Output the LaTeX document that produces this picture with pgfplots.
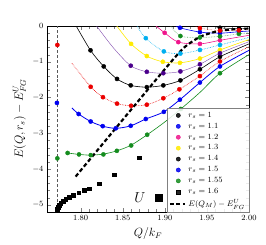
\documentclass[border=0pt]{standalone}
\usepackage{pgfplots}
\pgfplotsset{compat=1.18}
\pgfplotsset{shortline/.style={legend image code/.code={\draw[##1] (0cm,0cm) -- (0.55cm,0cm);}}}
\definecolor{cgreen}{RGB}{20,140,30}
\definecolor{cblue}{RGB}{0,0,240}
\definecolor{cred}{RGB}{235,0,0}
\definecolor{cpink}{RGB}{240,20,140}
\definecolor{ccyan}{RGB}{0,175,240}
\definecolor{cyell}{RGB}{255,235,0}
\definecolor{cpurp}{RGB}{75,0,140}
\begin{document}
\begin{tikzpicture}
\useasboundingbox (-47bp,-33bp) rectangle (219bp,212bp);
\begin{axis}[scale only axis, width=202bp, height=186bp,
  xmin=1.76, xmax=2.0, ymin=-5.2, ymax=0,
  xtick={1.8,1.85,1.9,1.95,2.0}, ytick={-5,-4,-3,-2,-1,0},
  minor x tick num=4, minor y tick num=4,
  xticklabel style={/pgf/number format/.cd, fixed, fixed zerofill, precision=2},
  tick label style={font=\footnotesize},
  xlabel={$Q/k_F$}, ylabel={$E(Q,r_s)-E^U_{FG}$}, label style={font=\large},
  legend style={at={(1,0)}, anchor=south east, draw=gray, fill=white, fill opacity=0.85, text opacity=1, font=\footnotesize, row sep=0.3pt, inner xsep=2pt, inner ysep=2pt},
  legend cell align=left,
  lin/.style={forget plot, no marks, smooth, tension=0.5},
  pts/.style={only marks, mark=*, mark size=2.1pt},
]
% vertical dotted line
\addplot[forget plot, densely dashed, gray!70!black, thin] coordinates {(1.7723,-5.2)(1.7723,0)};
% lines
\addplot[lin, cgreen, semithick] coordinates {(1.7845,-3.55)(1.7980,-3.59)(1.8120,-3.61)(1.8270,-3.58)(1.8430,-3.49)(1.8600,-3.33)(1.8790,-3.04)(1.8990,-2.70)(1.9190,-2.32)(1.9420,-1.85)(1.9655,-1.32)(2.0,-0.80)};
\addplot[lin, cblue, thick] coordinates {(1.7896,-2.29)(1.7976,-2.46)(1.8119,-2.67)(1.8262,-2.80)(1.8417,-2.86)(1.8595,-2.79)(1.8774,-2.60)(1.8988,-2.40)(1.9179,-2.06)(1.9417,-1.58)(1.9655,-1.13)(2.0,-0.68)};
\addplot[lin, cred, densely dotted, semithick] coordinates {(1.7896,-1.04)(1.8119,-1.70)(1.8265,-1.99)(1.8432,-2.17)(1.8599,-2.23)(1.8786,-2.20)(1.8982,-2.02)(1.9173,-1.77)(1.9417,-1.40)(1.9655,-0.99)(2.0,-0.58)};
\addplot[lin, black, semithick] coordinates {(1.7935,0.05)(1.8117,-0.68)(1.8274,-1.13)(1.8432,-1.48)(1.8595,-1.66)(1.8786,-1.71)(1.8982,-1.66)(1.9185,-1.52)(1.9417,-1.21)(1.9655,-0.86)(2.0,-0.50)};
\addplot[lin, cpurp!70, thin] coordinates {(1.8180,0.03)(1.8385,-0.60)(1.8595,-1.11)(1.8786,-1.28)(1.8982,-1.32)(1.9185,-1.27)(1.9417,-1.07)(1.9655,-0.76)(2.0,-0.44)};
\addplot[lin, cyell, semithick] coordinates {(1.8420,0.03)(1.8599,-0.50)(1.8786,-0.84)(1.8976,-1.00)(1.9179,-1.03)(1.9417,-0.91)(1.9655,-0.67)(2.0,-0.38)};
\addplot[lin, ccyan, densely dotted, semithick] coordinates {(1.8660,0.03)(1.8774,-0.34)(1.8988,-0.71)(1.9185,-0.77)(1.9417,-0.67)(1.9655,-0.53)(2.0,-0.32)};
\addplot[lin, cpink, semithick] coordinates {(1.8880,0.03)(1.8998,-0.19)(1.9160,-0.45)(1.9417,-0.50)(1.9655,-0.40)(2.0,-0.26)};
\addplot[lin, cgreen!70, densely dotted, semithick] coordinates {(1.9060,0.03)(1.9185,-0.28)(1.9417,-0.32)(1.9655,-0.29)(1.9880,-0.22)(2.0,-0.19)};
\addplot[lin, cblue, semithick] coordinates {(1.9120,0.03)(1.9180,-0.05)(1.9417,-0.17)(1.9655,-0.20)(1.9880,-0.16)(2.0,-0.14)};
\addplot[lin, cred, densely dotted] coordinates {(1.9350,0.03)(1.9417,-0.06)(1.9655,-0.13)(1.9880,-0.12)(2.0,-0.10)};
\addplot[lin, black] coordinates {(1.9550,0.03)(1.9655,-0.05)(1.9880,-0.07)(2.0,-0.06)};
% points (legend ones first, in order)
\addplot[pts, black] coordinates {(1.9655,-0.05)(1.9880,-0.07)};
\addlegendentry{$r_s=1$}
\addplot[pts, cblue] coordinates {(1.9180,-0.05)(1.9417,-0.17)(1.9655,-0.20)(1.9880,-0.16)};
\addlegendentry{$r_s=1.1$}
\addplot[pts, cpink] coordinates {(1.8998,-0.19)(1.9160,-0.45)(1.9417,-0.50)(1.9655,-0.40)};
\addlegendentry{$r_s=1.2$}
\addplot[pts, cyell] coordinates {(1.8599,-0.50)(1.8786,-0.84)(1.8976,-1.00)(1.9179,-1.03)(1.9417,-0.91)(1.9655,-0.67)};
\addlegendentry{$r_s=1.3$}
\addplot[pts, black] coordinates {(1.8117,-0.68)(1.8274,-1.13)(1.8432,-1.48)(1.8595,-1.66)(1.8786,-1.71)(1.8982,-1.66)(1.9185,-1.52)(1.9417,-1.21)(1.9655,-0.86)};
\addlegendentry{$r_s=1.4$}
\addplot[pts, cblue] coordinates {(1.7718,-2.15)(1.7976,-2.46)(1.8119,-2.67)(1.8262,-2.80)(1.8417,-2.86)(1.8595,-2.79)(1.8774,-2.60)(1.8988,-2.40)(1.9179,-2.06)(1.9417,-1.58)(1.9655,-1.13)};
\addlegendentry{$r_s=1.5$}
\addplot[pts, cgreen] coordinates {(1.7723,-3.70)(1.7845,-3.55)(1.7980,-3.59)(1.8120,-3.61)(1.8270,-3.59)(1.8430,-3.49)(1.8600,-3.34)(1.8790,-3.04)(1.9190,-2.32)(1.9655,-1.32)};
\addlegendentry{$r_s=1.55$}
\addplot[only marks, mark=square*, mark size=1.9pt, black] coordinates {(1.7718,-5.13)(1.7730,-5.07)(1.7742,-5.01)(1.7762,-4.96)(1.7790,-4.90)(1.7821,-4.85)(1.7861,-4.79)(1.7908,-4.74)(1.7976,-4.66)(1.8040,-4.59)(1.8099,-4.55)(1.8218,-4.41)(1.8396,-4.16)(1.8699,-3.68)};
\addlegendentry{$r_s=1.6$}
\addplot[black, line width=2.2pt, dash pattern=on 4pt off 2.5pt, smooth, tension=0.4, shortline] coordinates {(1.794,-4.21)(1.862,-2.28)(1.906,-1.04)(1.924,-0.58)(1.942,-0.30)(1.960,-0.16)(1.977,-0.10)(2.0,-0.07)};
\addlegendentry{$E(Q_M)-E^U_{FG}$}
% other points
\addplot[pts, cred, forget plot] coordinates {(1.7723,-0.53)(1.8119,-1.70)(1.8265,-1.99)(1.8432,-2.17)(1.8599,-2.23)(1.8786,-2.20)(1.8982,-2.02)(1.9173,-1.77)(1.9417,-1.40)(1.9655,-0.99)};
\addplot[pts, cpurp, forget plot] coordinates {(1.8595,-1.11)(1.8786,-1.28)(1.8982,-1.32)(1.9185,-1.27)(1.9417,-1.07)(1.9655,-0.76)};
\addplot[pts, ccyan, forget plot] coordinates {(1.8774,-0.34)(1.8988,-0.71)(1.9185,-0.77)(1.9417,-0.67)(1.9655,-0.53)};
\addplot[pts, cgreen, forget plot] coordinates {(1.9185,-0.28)(1.9417,-0.32)(1.9655,-0.29)(1.9880,-0.22)};
\addplot[pts, cred, forget plot] coordinates {(1.9417,-0.06)(1.9655,-0.13)(1.9880,-0.12)};
% U label with big square
\addplot[only marks, mark=square*, mark size=3.6pt, black, forget plot] coordinates {(1.8929,-4.79)};
\node[font=\Large] at (axis cs:1.8705,-4.79) {$U$};
\end{axis}
\end{tikzpicture}
\end{document}
